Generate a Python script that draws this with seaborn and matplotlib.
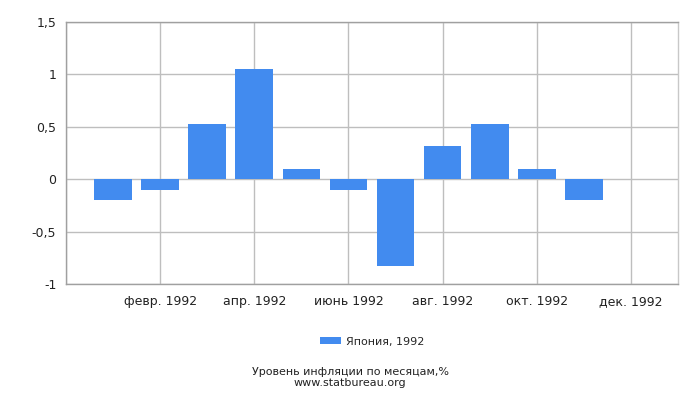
import matplotlib

matplotlib.use("Agg")
import matplotlib.pyplot as plt
import pandas as pd
import seaborn as sns
from matplotlib.ticker import FuncFormatter

months = ["янв. 1992", "февр. 1992", "март 1992", "апр. 1992", "май 1992", "июнь 1992",
          "июль 1992", "авг. 1992", "сент. 1992", "окт. 1992", "нояб. 1992", "дек. 1992"]
values = [-0.2, -0.1, 0.53, 1.05, 0.1, -0.1, -0.83, 0.32, 0.53, 0.1, -0.2, 0.0]
series = "Япония, 1992"
y_ticks = [-1, -0.5, 0, 0.5, 1, 1.5]

BAR = "#428BEF"
GRID = "#BEBEBE"

sns.set_theme(style="white")
plt.rcParams["font.family"] = ["DejaVu Sans"]

df = pd.DataFrame({"month": months, "value": values, "series": series})

fig = plt.figure(figsize=(7, 4), dpi=100)
ax = fig.add_axes([66 / 700, 116 / 400, 612 / 700, 262 / 400])

sns.barplot(data=df, x="month", y="value", hue="series", palette=[BAR],
            width=0.8, saturation=1, linewidth=0, ax=ax, legend=True, zorder=3)

ax.set_xlim(-1, 12)
ax.set_ylim(-1, 1.5)
ax.set_yticks(y_ticks)
ax.yaxis.set_major_formatter(FuncFormatter(lambda v, _: f"{v:g}".replace(".", ",")))
shown = list(range(1, 12, 2))
ax.set_xticks([-1] + shown)
ax.set_xticklabels([""] + [months[i] for i in shown])

ax.grid(True, color=GRID, linewidth=1, zorder=0)
ax.set_axisbelow(True)
for side, sp in ax.spines.items():
    sp.set_color("#A0A0A0" if side in ("left", "bottom", "top") else "#C8C8C8")
    sp.set_linewidth(1)
ax.tick_params(axis="both", length=4, width=1, color="#606060", labelsize=9,
               labelcolor="#222222", pad=3)
ax.tick_params(axis="x", pad=4)
ax.set_xlabel("")
ax.set_ylabel("")

ax.legend(loc="center", bbox_to_anchor=(0.5, -0.22), frameon=False, fontsize=8,
          handlelength=1.9, handleheight=0.6, handletextpad=0.4)

fig.text(0.5, 0.062, "Уровень инфляции по месяцам,%", ha="center", fontsize=8,
         color="#222222")
fig.text(0.5, 0.035, "www.statbureau.org", ha="center", fontsize=8, color="#222222")

fig.savefig("out.png", dpi=100)
plt.close(fig)
